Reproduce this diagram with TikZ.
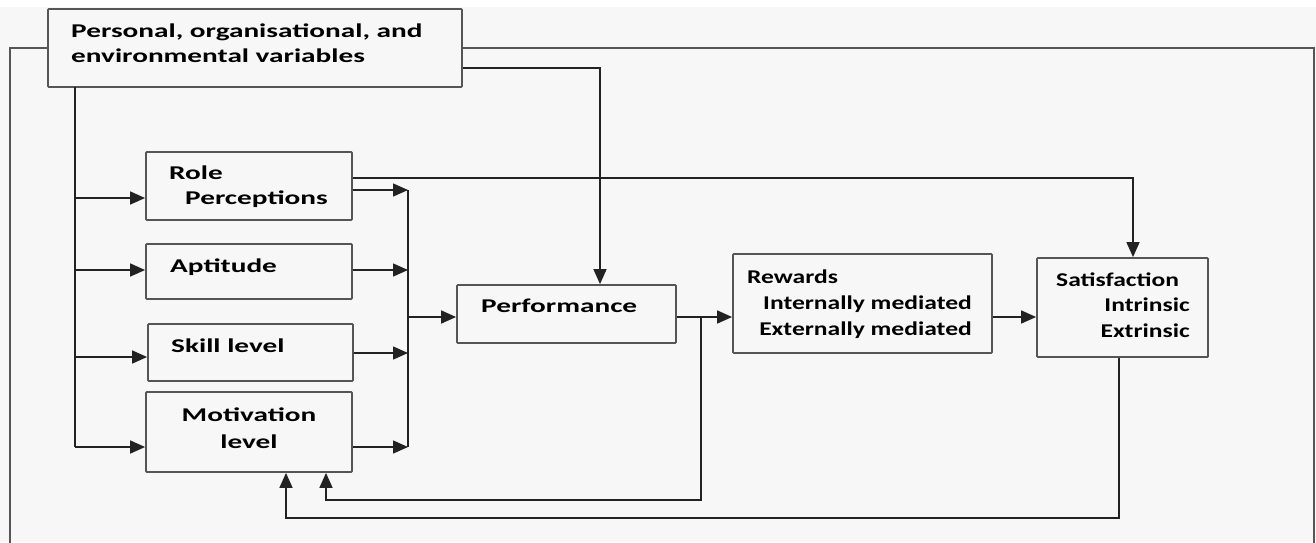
\documentclass[tikz,border=0pt]{standalone}
\usepackage{fontspec}
\newfontfamily\lab{Carlito}[FakeStretch=1.5]
\newfontfamily\labn{Carlito}[FakeStretch=1.31]
\usetikzlibrary{arrows.meta}
\definecolor{bg}{HTML}{F7F7F7}
\definecolor{boxc}{HTML}{555555}
\definecolor{linec}{HTML}{222222}
\tikzset{
  box/.style={draw=boxc, line width=1.8pt, fill=bg, inner sep=0pt, rounded corners=0.8pt},
  lbl/.style={inner sep=0pt, font=\lab\bfseries\fontsize{19.5}{23}\selectfont, text=black},
  lbln/.style={lbl, font=\labn\bfseries\fontsize{19.5}{23}\selectfont},
  conn/.style={draw=linec, line width=1.5pt},
  arr/.style={conn, -{Triangle[length=15pt,width=13pt]}},
  frame/.style={draw=boxc, line width=1.8pt}
}
\begin{document}
\begin{tikzpicture}[x=1pt,y=-1pt]
\useasboundingbox (0,0) rectangle (1316,542);
\fill[white] (0,0) rectangle (1316,542);
\fill[bg] (0,7) rectangle (1316,542);
% outer frame
\coordinate (fl) at (10,48);
\coordinate (flb) at (10,545);
\coordinate (fr) at (1314,48);
\coordinate (frb) at (1314,545);
% boxes
\node[box, minimum width=414pt, minimum height=78pt] (top) at (255,48) {};
\node[box, minimum width=206pt, minimum height=68pt] (role) at (249,186) {};
\node[box, minimum width=206pt, minimum height=55pt] (apt) at (249,271.5) {};
\node[box, minimum width=205pt, minimum height=57pt] (skill) at (250.5,352.5) {};
\node[box, minimum width=206pt, minimum height=80pt] (mot) at (249,432) {};
\node[box, minimum width=219pt, minimum height=58pt] (perf) at (566.5,314) {};
\node[box, minimum width=259pt, minimum height=99pt] (rew) at (862.5,303.5) {};
\node[box, minimum width=171pt, minimum height=99pt] (sat) at (1122.5,307.5) {};
\draw[frame] (top.west |- fl) -- (fl) -- (flb);
\draw[frame] (top.east |- fr) -- (fr) -- (frb);
% texts
\node[lbl, anchor=base west] (t1) at (71,37) {Personal, organisational, and};
\node[lbl, anchor=base west] (t2) at (71,62) {environmental variables};
\node[lbl, anchor=base west] (r1) at (169,179) {Role};
\node[lbl, anchor=base west] (r2) at (185,204) {Perceptions};
\node[lbl, anchor=base west] (a1) at (170,272) {Aptitude};
\node[lbl, anchor=base west] (s1) at (171,352) {Skill level};
\node[lbl, anchor=base] (m1) at (249,421) {Motivation};
\node[lbl, anchor=base] (m2) at (249,448) {level};
\node[lbl, anchor=base west] (p1) at (481,312) {Performance};
\node[lbln, anchor=base west] (w1) at (747,283) {Rewards};
\node[lbln, anchor=base east] (w2) at (972,309) {Internally mediated};
\node[lbln, anchor=base east] (w3) at (972,335) {Externally mediated};
\node[lbln, anchor=base west] (f1) at (1056,286) {Satisfaction};
\node[lbln, anchor=base east] (f2) at (1190,311) {Intrinsic};
\node[lbln, anchor=base east] (f3) at (1190,337) {Extrinsic};
% left feed from top box
\coordinate (lt) at (75,87);
\coordinate (lb) at (75,447);
\draw[conn] (lt) -- (lb);
\draw[arr] (lt |- 0,198) -- (role.west |- 0,198);
\draw[arr] (lt |- 0,270) -- (apt.west |- 0,270);
\draw[arr] (lt |- 0,357) -- (skill.west |- 0,357);
\draw[arr] (lb) -- (mot.west |- lb);
% collector
\coordinate (ct) at (408,190);
\coordinate (cb) at (408,447);
\draw[conn] (ct) -- (cb);
\draw[arr] (role.east |- ct) -- (ct);
\draw[arr] (apt.east |- 0,270) -- (ct |- 0,270);
\draw[arr] (skill.east |- 0,353) -- (ct |- 0,353);
\draw[arr] (mot.east |- cb) -- (cb);
\draw[arr] (ct |- 0,317) -- (perf.west |- 0,317);
% from top box to performance
\coordinate (tp) at (600,68);
\draw[arr] (top.east |- tp) -- (tp) -- (perf.north -| tp);
% role to satisfaction
\coordinate (rs) at (1133,178);
\draw[arr] (role.east |- rs) -- (rs) -- (sat.north -| rs);
% performance to rewards to satisfaction
\draw[arr] (perf.east |- 0,317) -- (rew.west |- 0,317);
\draw[arr] (rew.east |- 0,317) -- (sat.west |- 0,317);
% feedback loops
\coordinate (pb) at (701,317);
\coordinate (pb2) at (701,500);
\draw[arr] (pb) -- (pb2) -- (326,500) -- (mot.south -| 326,0);
\coordinate (sb) at (1119,518);
\draw[arr] (sat.south -| sb) -- (sb) -- (286,518) -- (mot.south -| 286,0);
\end{tikzpicture}
\end{document}
